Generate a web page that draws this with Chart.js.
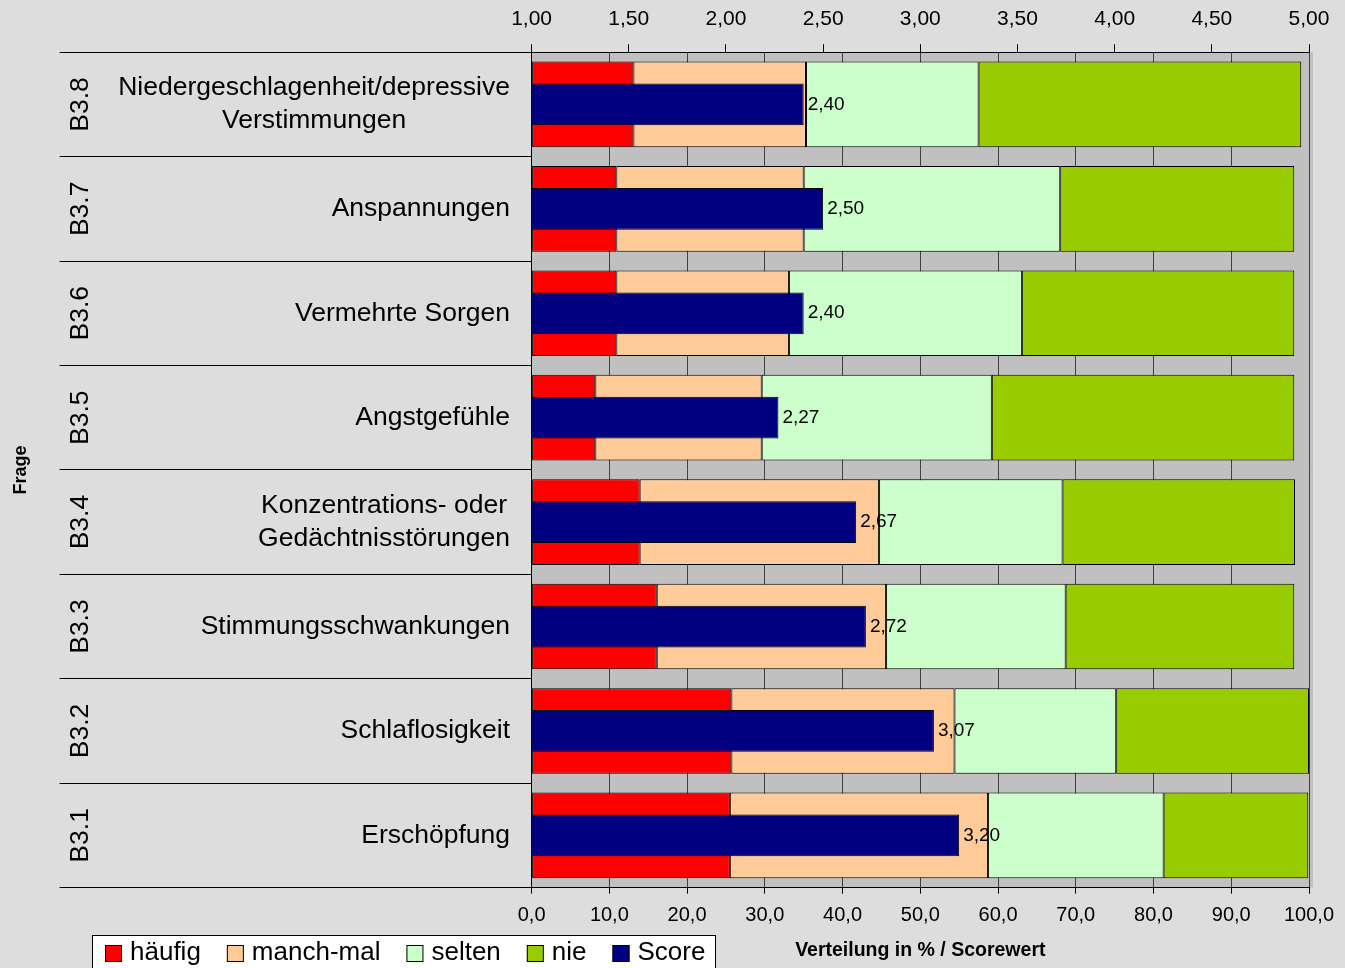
<!DOCTYPE html>
<html>
<head>
<meta charset="utf-8">
<script src="https://cdn.jsdelivr.net/npm/chart.js@4/dist/chart.umd.min.js"></script>
<style>
  html, body { margin: 0; padding: 0; background: #DDDDDD; }
  #wrap { width: 1345px; height: 968px; position: relative; }
</style>
</head>
<body>
<div id="wrap"><canvas id="chart1"></canvas></div>
<script>
// categories (top to bottom) and their question texts
const categories = ['B3.8', 'B3.7', 'B3.6', 'B3.5', 'B3.4', 'B3.3', 'B3.2', 'B3.1'];
const questions = [
    ['Niedergeschlagenheit/depressive', 'Verstimmungen'],
    ['Anspannungen'],
    ['Vermehrte Sorgen'],
    ['Angstgefühle'],
    ['Konzentrations- oder', 'Gedächtnisstörungen'],
    ['Stimmungsschwankungen'],
    ['Schlaflosigkeit'],
    ['Erschöpfung']
];

// distribution in %
const haeufig  = [13.1, 10.9, 10.9, 8.2, 13.9, 16.1, 25.7, 25.5];
const manchmal = [22.2, 24.1, 22.2, 21.4, 30.8, 29.5, 28.7, 33.2];
const selten   = [22.2, 33.0, 30.0, 29.6, 23.6, 23.1, 20.8, 22.6];
const nie      = [41.5, 30.1, 35.0, 38.9, 29.9, 29.4, 24.8, 18.6];

// score values (1..5)
const score = [2.40, 2.50, 2.40, 2.27, 2.67, 2.72, 3.07, 3.20];

const FONT = "'Liberation Sans', Arial, sans-serif";
const comma = (v, d) => Number(v).toFixed(d).replace('.', ',');

// gray plot background
const plotBg = {
    id: 'plotBg',
    beforeDraw(chart) {
        const { ctx, chartArea: a } = chart;
        ctx.save();
        ctx.fillStyle = '#C0C0C0';
        ctx.fillRect(a.left, a.top, a.right - a.left + 4, a.bottom - a.top);
        ctx.restore();
    }
};

// question labels on the left
const leftLabels = {
    id: 'leftLabels',
    afterDraw(chart) {
        const { ctx } = chart;
        const y = chart.scales.y;
        ctx.save();
        ctx.fillStyle = '#000';
        ctx.font = '26.5px ' + FONT;
        ctx.textBaseline = 'middle';
        categories.forEach((c, i) => {
            const cy = y.getPixelForValue(i);
            // rotated code
            ctx.save();
            ctx.translate(81, cy);
            ctx.rotate(-Math.PI / 2);
            ctx.textAlign = 'center';
            ctx.fillText(c, 0, 0);
            ctx.restore();
            // question text
            const lines = questions[i];
            const w = Math.max(...lines.map(l => ctx.measureText(l).width));
            const cx = 510 - w / 2;
            ctx.textAlign = 'center';
            const lh = 33;
            lines.forEach((l, k) => {
                ctx.fillText(l, cx, cy + (k - (lines.length - 1) / 2) * lh);
            });
        });
        ctx.restore();
    }
};

// score value labels
const scoreLabels = {
    id: 'scoreLabels',
    afterDatasetsDraw(chart) {
        const { ctx } = chart;
        const meta = chart.getDatasetMeta(4);
        ctx.save();
        ctx.fillStyle = '#000';
        ctx.font = '19px ' + FONT;
        ctx.textAlign = 'left';
        ctx.textBaseline = 'middle';
        meta.data.forEach((el, i) => {
            ctx.fillText(comma(score[i], 2), el.x + 4, el.y);
        });
        ctx.restore();
    }
};

// boxed legend at the bottom left
const boxLegend = {
    id: 'boxLegend',
    afterDraw(chart) {
        const { ctx } = chart;
        const ds = chart.data.datasets;
        ctx.save();
        ctx.fillStyle = '#fff';
        ctx.fillRect(92, 935, 623, 40);
        ctx.strokeStyle = '#000';
        ctx.lineWidth = 1;
        ctx.strokeRect(92.5, 935.5, 623, 40);
        ctx.font = '26px ' + FONT;
        ctx.textBaseline = 'middle';
        ctx.textAlign = 'left';
        let x = 105;
        const cy = 953;
        ds.forEach(d => {
            ctx.fillStyle = d.backgroundColor;
            ctx.fillRect(x, cy - 8, 17, 17);
            ctx.strokeRect(x + 0.5, cy - 7.5, 16, 16);
            ctx.fillStyle = '#000';
            ctx.fillText(d.label, x + 25, cy);
            x += 25 + ctx.measureText(d.label).width + 26;
        });
        ctx.restore();
    }
};

const stackStyle = {
    borderColor: '#000',
    borderWidth: 1,
    borderSkipped: false,
    barPercentage: 0.82,
    categoryPercentage: 1,
    grouped: false,
    xAxisID: 'x',
    stack: 'dist',
    order: 1
};

const chart1 = new Chart(document.querySelector('#chart1'), {
    type: 'bar',
    data: {
        labels: categories,
        datasets: [
            { label: 'häufig', data: haeufig, backgroundColor: '#FF0000', ...stackStyle },
            { label: 'manch-mal', data: manchmal, backgroundColor: '#FFCC99', ...stackStyle },
            { label: 'selten', data: selten, backgroundColor: '#CCFFCC', ...stackStyle },
            { label: 'nie', data: nie, backgroundColor: '#99CC00', ...stackStyle },
            {
                label: 'Score',
                data: score,
                backgroundColor: '#000080',
                borderColor: '#000',
                borderWidth: 1,
                base: 1,
                barPercentage: 0.40,
                categoryPercentage: 1,
                grouped: false,
                stack: 'score',
                xAxisID: 'x2',
                order: 0
            }
        ]
    },
    options: {
        indexAxis: 'y',
        responsive: true,
        maintainAspectRatio: false,
        animation: false,
        layout: { padding: { left: 10, right: 36, top: -5, bottom: 6 } },
        scales: {
            x: {
                position: 'bottom',
                stacked: true,
                min: 0,
                max: 100,
                grid: {
                    color: '#404040',
                    tickColor: '#000',
                    tickLength: 6
                },
                border: { color: '#000' },
                ticks: {
                    stepSize: 10,
                    padding: 10,
                    color: '#000',
                    font: { family: FONT, size: 20 },
                    callback: v => comma(v, 1)
                },
                title: {
                    display: true,
                    text: 'Verteilung in % / Scorewert',
                    color: '#000',
                    padding: { top: 1, bottom: 0 },
                    font: { family: FONT, size: 19.5, weight: 'bold' }
                }
            },
            x2: {
                position: 'top',
                min: 1,
                max: 5,
                grid: {
                    drawOnChartArea: false,
                    color: '#000',
                    tickLength: 8
                },
                border: { color: '#000' },
                ticks: {
                    stepSize: 0.5,
                    padding: 12,
                    color: '#000',
                    font: { family: FONT, size: 21 },
                    callback: v => comma(v, 2)
                }
            },
            y: {
                stacked: true,
                position: 'left',
                grid: {
                    drawOnChartArea: false,
                    offset: true,
                    color: '#000',
                    tickLength: 472
                },
                border: { color: '#000' },
                ticks: { display: false },
                title: {
                    display: true,
                    text: 'Frage',
                    color: '#000',
                    padding: { top: 0, bottom: 28 },
                    font: { family: FONT, size: 18, weight: 'bold' }
                }
            }
        },
        plugins: {
            legend: { display: false },
            tooltip: { enabled: false }
        }
    },
    plugins: [plotBg, leftLabels, scoreLabels, boxLegend]
});
</script>
</body>
</html>
